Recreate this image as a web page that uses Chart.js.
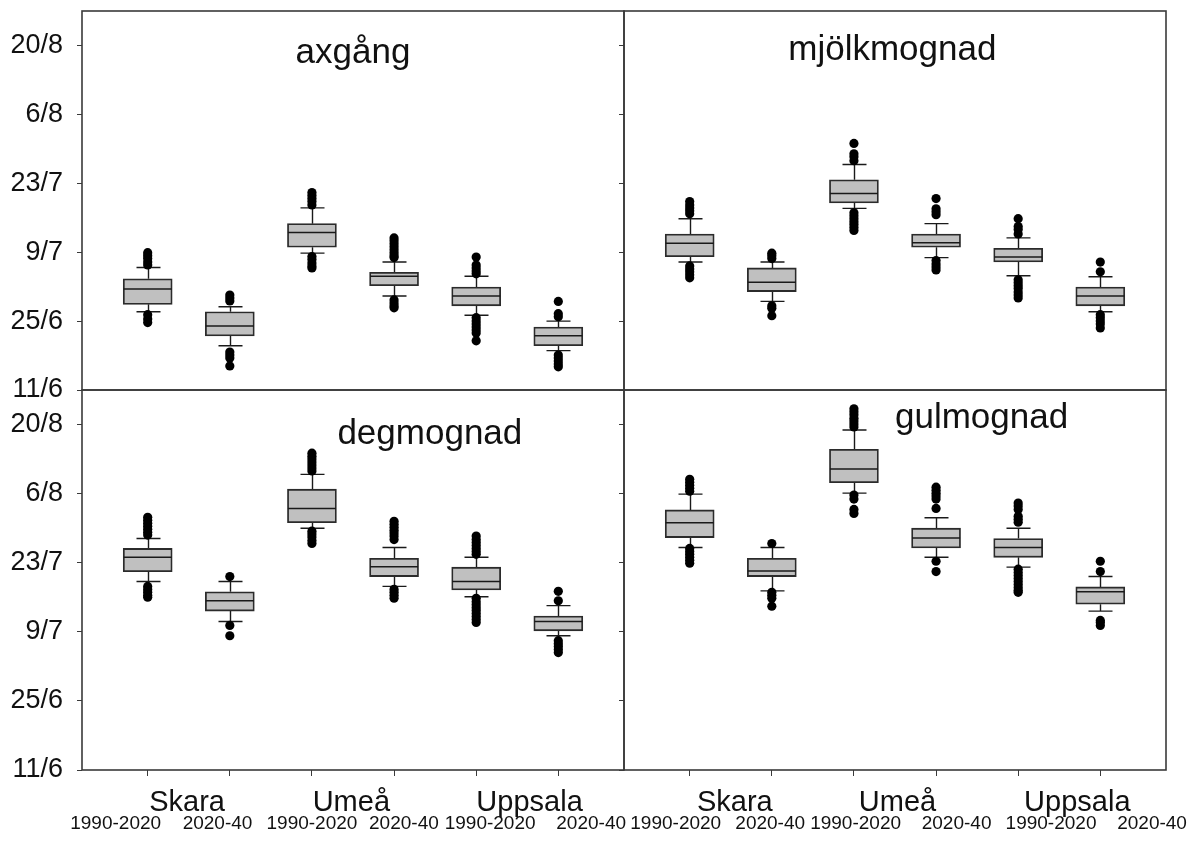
<!DOCTYPE html>
<html>
<head>
<meta charset="utf-8">
<title>axgång, mjölkmognad, degmognad, gulmognad</title>
<script src="https://cdn.jsdelivr.net/npm/chart.js@4.4.0/dist/chart.umd.min.js"></script>
<style>
  html, body { margin: 0; padding: 0; background: #fff; }
  #wrap { position: relative; width: 1192px; height: 844px; }
  #wrap canvas { position: absolute; left: 0; top: 0; }
</style>
</head>
<body>
<div id="wrap">
  <canvas id="axgang" width="1192" height="844"></canvas>
  <canvas id="mjolkmognad" width="1192" height="844"></canvas>
  <canvas id="degmognad" width="1192" height="844"></canvas>
  <canvas id="gulmognad" width="1192" height="844"></canvas>
</div>
<script>
// y values are days after 11 June
const yTickValues = [0, 14, 28, 42, 56, 70];
const yTickLabels = ['11/6', '25/6', '9/7', '23/7', '6/8', '20/8'];

// one box per site and period
const boxPositions = [1, 2, 3, 4, 5, 6];
const sites = ['Skara', 'Umeå', 'Uppsala'];
const periods = ['1990-2020', '2020-40', '1990-2020', '2020-40', '1990-2020', '2020-40'];

// axgång
const axgangLow = [15.9, 9.0, 27.8, 19.1, 15.2, 8.0];
const axgangQ1 = [17.4, 11.0, 29.0, 21.2, 17.1, 9.0];
const axgangMedian = [20.5, 13.0, 32.0, 23.1, 19.1, 11.0];
const axgangQ3 = [22.6, 15.9, 33.8, 23.9, 20.9, 12.8];
const axgangHigh = [24.9, 16.9, 37.0, 26.0, 23.1, 14.0];
const axgangOutliers = [
    [25.4, 26.0, 26.7, 27.3, 27.9, 15.3, 14.4, 13.7],
    [18.1, 18.7, 19.3, 7.7, 7.1, 6.5, 4.9],
    [37.6, 38.3, 38.9, 39.5, 40.1, 27.1, 26.5, 25.8, 25.2, 24.8],
    [26.9, 27.3, 27.9, 28.5, 29.1, 29.7, 30.3, 30.9, 18.3, 17.7, 17.1, 16.7],
    [23.6, 24.2, 24.8, 25.4, 27.0, 14.7, 14.0, 13.4, 12.8, 12.2, 11.6, 10.0],
    [14.9, 15.5, 18.0, 7.1, 6.5, 5.9, 5.3, 4.7]
];

// mjölkmognad
const mjolkLow = [26.0, 18.0, 36.9, 26.9, 23.2, 15.9];
const mjolkQ1 = [27.1, 20.0, 38.0, 29.0, 26.0, 17.1];
const mjolkMedian = [29.8, 21.9, 39.9, 29.9, 27.0, 19.1];
const mjolkQ3 = [31.7, 24.8, 42.7, 31.7, 28.8, 20.9];
const mjolkHigh = [34.8, 26.0, 45.8, 33.8, 30.9, 23.0];
const mjolkOutliers = [
    [35.8, 36.4, 37.0, 37.6, 38.3, 25.2, 24.6, 24.0, 23.4, 22.8],
    [26.7, 27.3, 27.8, 17.1, 16.6, 15.1],
    [46.6, 47.4, 48.0, 50.1, 36.0, 35.4, 34.8, 34.2, 33.6, 33.0, 32.4],
    [35.6, 36.2, 36.8, 38.9, 26.3, 25.6, 25.0, 24.4],
    [31.7, 32.6, 33.2, 34.8, 22.4, 21.8, 21.2, 20.6, 19.9, 19.3, 18.7],
    [24.0, 26.0, 15.3, 14.7, 14.0, 13.4, 12.6]
];

// degmognad
const degLow = [38.2, 30.1, 49.0, 37.2, 35.1, 27.2];
const degQ1 = [40.2, 32.2, 50.1, 39.2, 36.5, 28.2];
const degMedian = [43.1, 34.3, 53.0, 41.2, 38.2, 30.1];
const degQ3 = [44.9, 36.1, 56.9, 42.9, 41.1, 31.2];
const degHigh = [46.9, 38.2, 59.9, 45.1, 43.1, 33.3];
const degOutliers = [
    [47.6, 48.2, 48.8, 49.4, 50.0, 50.6, 51.2, 37.2, 36.6, 36.0, 35.4, 35.0],
    [39.2, 29.3, 27.2],
    [60.6, 61.2, 61.8, 62.4, 63.0, 63.6, 64.2, 48.4, 47.8, 47.2, 46.5, 45.9],
    [46.7, 47.4, 48.0, 48.6, 49.2, 49.8, 50.4, 36.6, 36.0, 35.4, 34.8],
    [43.7, 44.3, 44.9, 45.5, 46.1, 46.7, 47.4, 34.8, 34.1, 33.5, 32.9, 32.3, 31.7, 31.1, 30.5, 29.9],
    [34.3, 36.2, 26.2, 25.6, 25.0, 24.4, 23.8]
];

// gulmognad
const gulLow = [45.1, 36.3, 56.1, 43.1, 41.1, 32.2];
const gulQ1 = [47.1, 39.2, 58.2, 45.0, 43.1, 33.6];
const gulMedian = [50.1, 40.3, 61.0, 47.0, 45.1, 36.1];
const gulQ3 = [52.7, 42.9, 65.0, 49.0, 46.9, 37.1];
const gulHigh = [55.9, 45.1, 68.9, 51.1, 49.0, 39.2];
const gulOutliers = [
    [56.5, 57.1, 57.7, 58.3, 58.9, 44.9, 44.3, 43.7, 43.1, 42.5, 41.9],
    [45.9, 36.0, 35.4, 34.8, 33.2],
    [69.5, 70.1, 70.7, 71.3, 72.0, 72.6, 73.2, 55.7, 54.9, 52.8, 52.0],
    [53.0, 54.9, 55.5, 56.1, 56.7, 57.3, 42.3, 40.2],
    [50.2, 50.8, 51.4, 52.8, 53.5, 54.1, 40.7, 40.0, 39.4, 38.8, 38.2, 37.6, 37.0, 36.4, 36.0],
    [40.2, 42.3, 30.3, 29.9, 29.3]
];

const FONT = "'Liberation Sans', Arial, sans-serif";
Chart.defaults.font.family = FONT;
Chart.defaults.color = '#111';

// layout of the four panels (placement only, no data)
const panels = [
    { id: 'axgang', title: 'axgång', titleAt: [2.8, 66.4], left: true, bottom: false,
      padding: { left: 0, top: 11, right: 568, bottom: 454 },
      low: axgangLow, q1: axgangQ1, median: axgangMedian, q3: axgangQ3, high: axgangHigh, outliers: axgangOutliers },
    { id: 'mjolkmognad', title: 'mjölkmognad', titleAt: [2.2, 67.0], left: false, bottom: false,
      padding: { left: 618, top: 11, right: 26, bottom: 454 },
      low: mjolkLow, q1: mjolkQ1, median: mjolkMedian, q3: mjolkQ3, high: mjolkHigh, outliers: mjolkOutliers },
    { id: 'degmognad', title: 'degmognad', titleAt: [3.31, 66.0], left: true, bottom: true,
      padding: { left: 0, top: 390, right: 568, bottom: 68 },
      siteAt: [1.48, 3.48, 5.65], periodAt: [0.61, 1.85, 3.0, 4.12, 5.17, 6.4],
      low: degLow, q1: degQ1, median: degMedian, q3: degQ3, high: degHigh, outliers: degOutliers },
    { id: 'gulmognad', title: 'gulmognad', titleAt: [3.5, 69.4], left: false, bottom: true,
      padding: { left: 618, top: 390, right: 26, bottom: 68 },
      siteAt: [1.55, 3.53, 5.72], periodAt: [0.83, 1.98, 3.02, 4.25, 5.4, 6.63],
      low: gulLow, q1: gulQ1, median: gulMedian, q3: gulQ3, high: gulHigh, outliers: gulOutliers }
];

/**
 * build one box plot panel
 * @param {Object} p - panel layout and its arrays
 */
function makePanel (p) {
    // boxes are floating bars from Q1 to Q3
    const boxes = boxPositions.map((x, i) => ({ x: x, y: [p.q1[i], p.q3[i]] }));

    // outliers as scatter points
    const points = [];
    p.outliers.forEach((list, i) => {
        list.forEach(v => points.push({ x: boxPositions[i], y: v }));
    });

    // whiskers, caps, medians, frame and texts
    const boxParts = {
        id: 'boxParts',
        beforeDatasetsDraw (chart) {
            const ctx = chart.ctx;
            const xs = chart.scales.x;
            const ys = chart.scales.y;
            ctx.save();
            ctx.strokeStyle = '#1a1a1a';
            ctx.lineWidth = 1.4;
            ctx.beginPath();
            for (let i = 0; i < boxPositions.length; i++) {
                const cx = Math.round(xs.getPixelForValue(boxPositions[i])) + 0.5;
                const lo = ys.getPixelForValue(p.low[i]);
                const hi = ys.getPixelForValue(p.high[i]);
                ctx.moveTo(cx, lo);
                ctx.lineTo(cx, ys.getPixelForValue(p.q1[i]));
                ctx.moveTo(cx, ys.getPixelForValue(p.q3[i]));
                ctx.lineTo(cx, hi);
                ctx.moveTo(cx - 12, lo);
                ctx.lineTo(cx + 12, lo);
                ctx.moveTo(cx - 12, hi);
                ctx.lineTo(cx + 12, hi);
            }
            ctx.stroke();
            ctx.restore();
        },
        afterDatasetsDraw (chart) {
            const ctx = chart.ctx;
            const xs = chart.scales.x;
            const ys = chart.scales.y;
            ctx.save();
            ctx.strokeStyle = '#1a1a1a';
            ctx.lineWidth = 1.5;
            ctx.beginPath();
            for (let i = 0; i < boxPositions.length; i++) {
                const cx = xs.getPixelForValue(boxPositions[i]);
                const my = ys.getPixelForValue(p.median[i]);
                ctx.moveTo(cx - 24, my);
                ctx.lineTo(cx + 24, my);
            }
            ctx.stroke();
            ctx.restore();
        },
        afterDraw (chart) {
            const ctx = chart.ctx;
            const a = chart.chartArea;
            const xs = chart.scales.x;
            const ys = chart.scales.y;
            ctx.save();
            // panel frame
            ctx.strokeStyle = '#3a3a3a';
            ctx.lineWidth = 1.6;
            ctx.strokeRect(a.left, a.top, a.right - a.left, a.bottom - a.top);

            // panel title
            ctx.fillStyle = '#111';
            ctx.textAlign = 'left';
            ctx.textBaseline = 'alphabetic';
            ctx.font = '35px ' + FONT;
            ctx.fillText(p.title, xs.getPixelForValue(p.titleAt[0]), ys.getPixelForValue(p.titleAt[1]));

            // site and period labels under the bottom panels
            if (p.bottom) {
                ctx.textAlign = 'center';
                ctx.font = '29px ' + FONT;
                sites.forEach((s, i) => ctx.fillText(s, xs.getPixelForValue(p.siteAt[i]), a.bottom + 41));
                ctx.font = '19px ' + FONT;
                periods.forEach((s, i) => ctx.fillText(s, xs.getPixelForValue(p.periodAt[i]), a.bottom + 59));
            }
            ctx.restore();
        }
    };

    const config = {
        type: 'bar',
        data: {
            datasets: [
                {
                    type: 'scatter',
                    data: points,
                    pointRadius: 4.6,
                    pointHoverRadius: 4.6,
                    backgroundColor: '#000',
                    borderWidth: 0,
                    order: 1
                },
                {
                    type: 'bar',
                    data: boxes,
                    backgroundColor: '#c0c0c0',
                    borderColor: '#2b2b2b',
                    borderWidth: 1.8,
                    borderSkipped: false,
                    barThickness: 49,
                    order: 2
                }
            ]
        },
        options: {
            responsive: false,
            animation: false,
            devicePixelRatio: 1,
            events: [],
            layout: { padding: p.padding },
            plugins: {
                legend: { display: false },
                tooltip: { enabled: false }
            },
            scales: {
                x: {
                    type: 'linear',
                    min: 0.2,
                    max: 6.8,
                    offset: false,
                    display: p.bottom,
                    border: { display: false },
                    grid: { drawOnChartArea: false, drawTicks: true, tickLength: 6, color: '#3a3a3a', offset: false },
                    ticks: { display: false },
                    afterBuildTicks: scale => { scale.ticks = boxPositions.map(v => ({ value: v })); },
                    afterFit: scale => {
                        scale.height = p.bottom ? 6 : 0;
                        scale.paddingLeft = 0;
                        scale.paddingRight = 0;
                    }
                },
                y: {
                    type: 'linear',
                    min: 0,
                    max: 77,
                    border: { display: false },
                    grid: { drawOnChartArea: false, drawTicks: true, tickLength: 5, color: '#3a3a3a' },
                    ticks: {
                        display: p.left,
                        padding: 14,
                        color: '#111',
                        font: { size: 27, family: FONT },
                        callback: (value, index) => yTickLabels[index]
                    },
                    afterBuildTicks: scale => { scale.ticks = yTickValues.map(v => ({ value: v })); },
                    afterFit: scale => {
                        scale.width = p.left ? 82 : 6;
                        scale.paddingTop = 0;
                        scale.paddingBottom = 0;
                    }
                }
            }
        },
        plugins: [boxParts]
    };

    return new Chart(document.getElementById(p.id), config);
}

panels.forEach(makePanel);
</script>
</body>
</html>
